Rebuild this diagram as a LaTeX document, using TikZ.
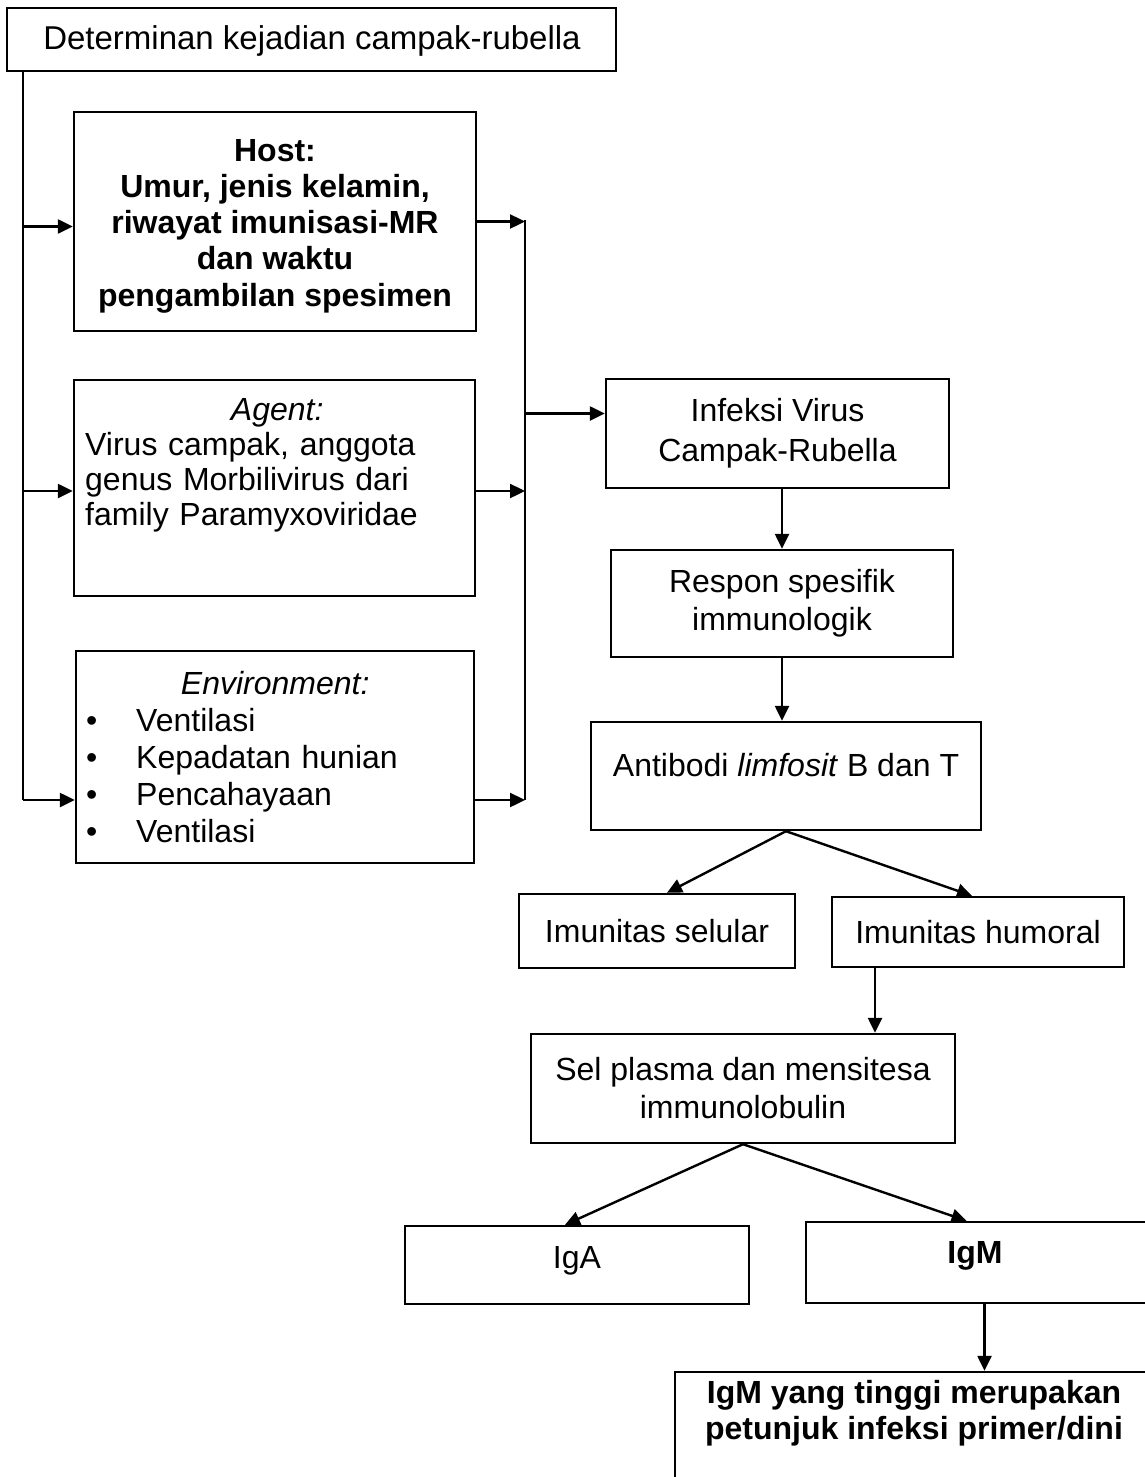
\documentclass[tikz,border=0pt]{standalone}
\usepackage{fontspec}
\setmainfont{Liberation Sans}
\usetikzlibrary{arrows.meta}
\begin{document}
\begin{tikzpicture}[x=1pt,y=-1pt,
  box/.style={draw, line width=2.4pt, rectangle, inner sep=0pt, align=center},
  txt/.style={inner sep=0pt},
  con/.style={line width=2.4pt},
  arr/.style={line width=2.4pt, -{Triangle[length=15pt,width=14pt]}},
  font=\fontsize{32}{37}\selectfont]
\useasboundingbox (0,0) rectangle (1145,1477);
\clip (0,0) rectangle (1145,1477);
\fill[white] (0,0) rectangle (1145,1477);

% boxes
\node[box, minimum width=609pt, minimum height=63pt] (top) at (311.5,39.5) {};
\node[txt, font=\fontsize{33}{37}\selectfont] (topt) at (312,41) {Determinan kejadian campak-rubella};
\node[box, minimum width=402pt, minimum height=219pt] (host) at (275,221.5) {};
\node[txt, align=center, font=\fontsize{32}{36.2}\selectfont\bfseries] (hostt) at (275,226)
  {Host:\\Umur, jenis kelamin,\\riwayat imunisasi-MR\\dan waktu\\pengambilan spesimen};
\node[box, minimum width=401pt, minimum height=216pt] (agent) at (274.5,488) {};
\node[txt, anchor=north west, text width=384pt, align=left, font=\fontsize{32}{35}\selectfont] (agentt) at (85,398)
  {\null\hfill\textit{Agent:}\hfill\null\\Virus campak, anggota\\genus Morbilivirus dari\\family Paramyxoviridae};
\node[box, minimum width=398pt, minimum height=212pt] (env) at (275,757) {};
\node[txt, anchor=north west, text width=378pt, align=left, font=\fontsize{32}{37}\selectfont] (envt) at (86,671)
  {\null\hfill\textit{Environment:}\hfill\null\\
   \makebox[50pt][l]{\textbullet}Ventilasi\\
   \makebox[50pt][l]{\textbullet}Kepadatan hunian\\
   \makebox[50pt][l]{\textbullet}Pencahayaan\\
   \makebox[50pt][l]{\textbullet}Ventilasi};
\node[box, minimum width=343pt, minimum height=109pt, font=\fontsize{32}{40}\selectfont] (infeksi) at (777.5,433.5) {Infeksi Virus\\Campak-Rubella};
\node[box, minimum width=342pt, minimum height=107pt, font=\fontsize{32}{38}\selectfont] (respon) at (782,603.5) {Respon spesifik\\immunologik};
\node[box, minimum width=390pt, minimum height=108pt] (ab) at (786,776) {};
\node[txt, anchor=base] (abt) at (786,776) {Antibodi \textit{limfosit} B dan T};
\node[box, minimum width=276pt, minimum height=74pt] (sel1) at (657,931) {Imunitas selular};
\node[box, minimum width=292pt, minimum height=70pt] (hum) at (978,932) {Imunitas humoral};
\node[box, minimum width=424pt, minimum height=109pt, font=\fontsize{32}{38}\selectfont] (plasma) at (743,1088.5) {Sel plasma dan mensitesa\\immunolobulin};
\node[box, minimum width=344pt, minimum height=78pt] (iga) at (577,1265) {};
\node[txt, anchor=base] (igat) at (577,1268) {IgA};
\node[box, minimum width=341pt, minimum height=81pt] (igm) at (976.5,1262.5) {};
\node[txt, anchor=base, font=\fontsize{32}{37}\selectfont\bfseries] (igmt) at (975,1263) {IgM};
\node[box, minimum width=480pt, minimum height=136pt] (fin) at (915,1440) {};
\node[txt, anchor=north, align=center, font=\fontsize{32}{36}\selectfont\bfseries] (fint) at (914,1380)
  {IgM yang tinggi merupakan\\petunjuk infeksi primer/dini};

% buses
\coordinate (lbus) at (23,800);
\coordinate (rbus) at (525,220);
\coordinate (rbusb) at (525,800);
\draw[con] (top.south -| lbus) -- (lbus);
\draw[arr] ([yshift=-5pt]host.west -| lbus) -- ([yshift=-5pt]host.west);
\draw[arr] ([yshift=-3pt]agent.west -| lbus) -- ([yshift=-3pt]agent.west);
\draw[arr] ([yshift=-43pt]env.west -| lbus) -- ([yshift=-43pt]env.west);
\draw[con] (rbus) -- (rbusb);
\draw[arr] (host.east) -- (host.east -| rbus);
\draw[arr] ([yshift=-3pt]agent.east) -- ([yshift=-3pt]agent.east -| rbus);
\draw[arr] ([yshift=-43pt]env.east) -- ([yshift=-43pt]env.east -| rbus);
\draw[arr] ([yshift=20pt]infeksi.west -| rbus) -- ([yshift=20pt]infeksi.west);

% vertical flow
\draw[arr] (infeksi.south -| respon.north) -- (respon.north);
\draw[arr] (respon.south) -- (respon.south |- ab.north);
\draw[arr] (ab.south) -- ([xshift=10pt]sel1.north);
\draw[arr] (ab.south) -- ([xshift=-6pt]hum.north);
\draw[arr] ([xshift=-103pt]hum.south) -- ([xshift=-103pt]hum.south |- plasma.north);
\draw[arr] (plasma.south) -- ([xshift=-12pt]iga.north);
\draw[arr] (plasma.south) -- ([xshift=-10pt]igm.north);
\draw[arr] ([xshift=8pt]igm.south) -- ([xshift=8pt]igm.south |- fin.north);
\end{tikzpicture}
\end{document}
